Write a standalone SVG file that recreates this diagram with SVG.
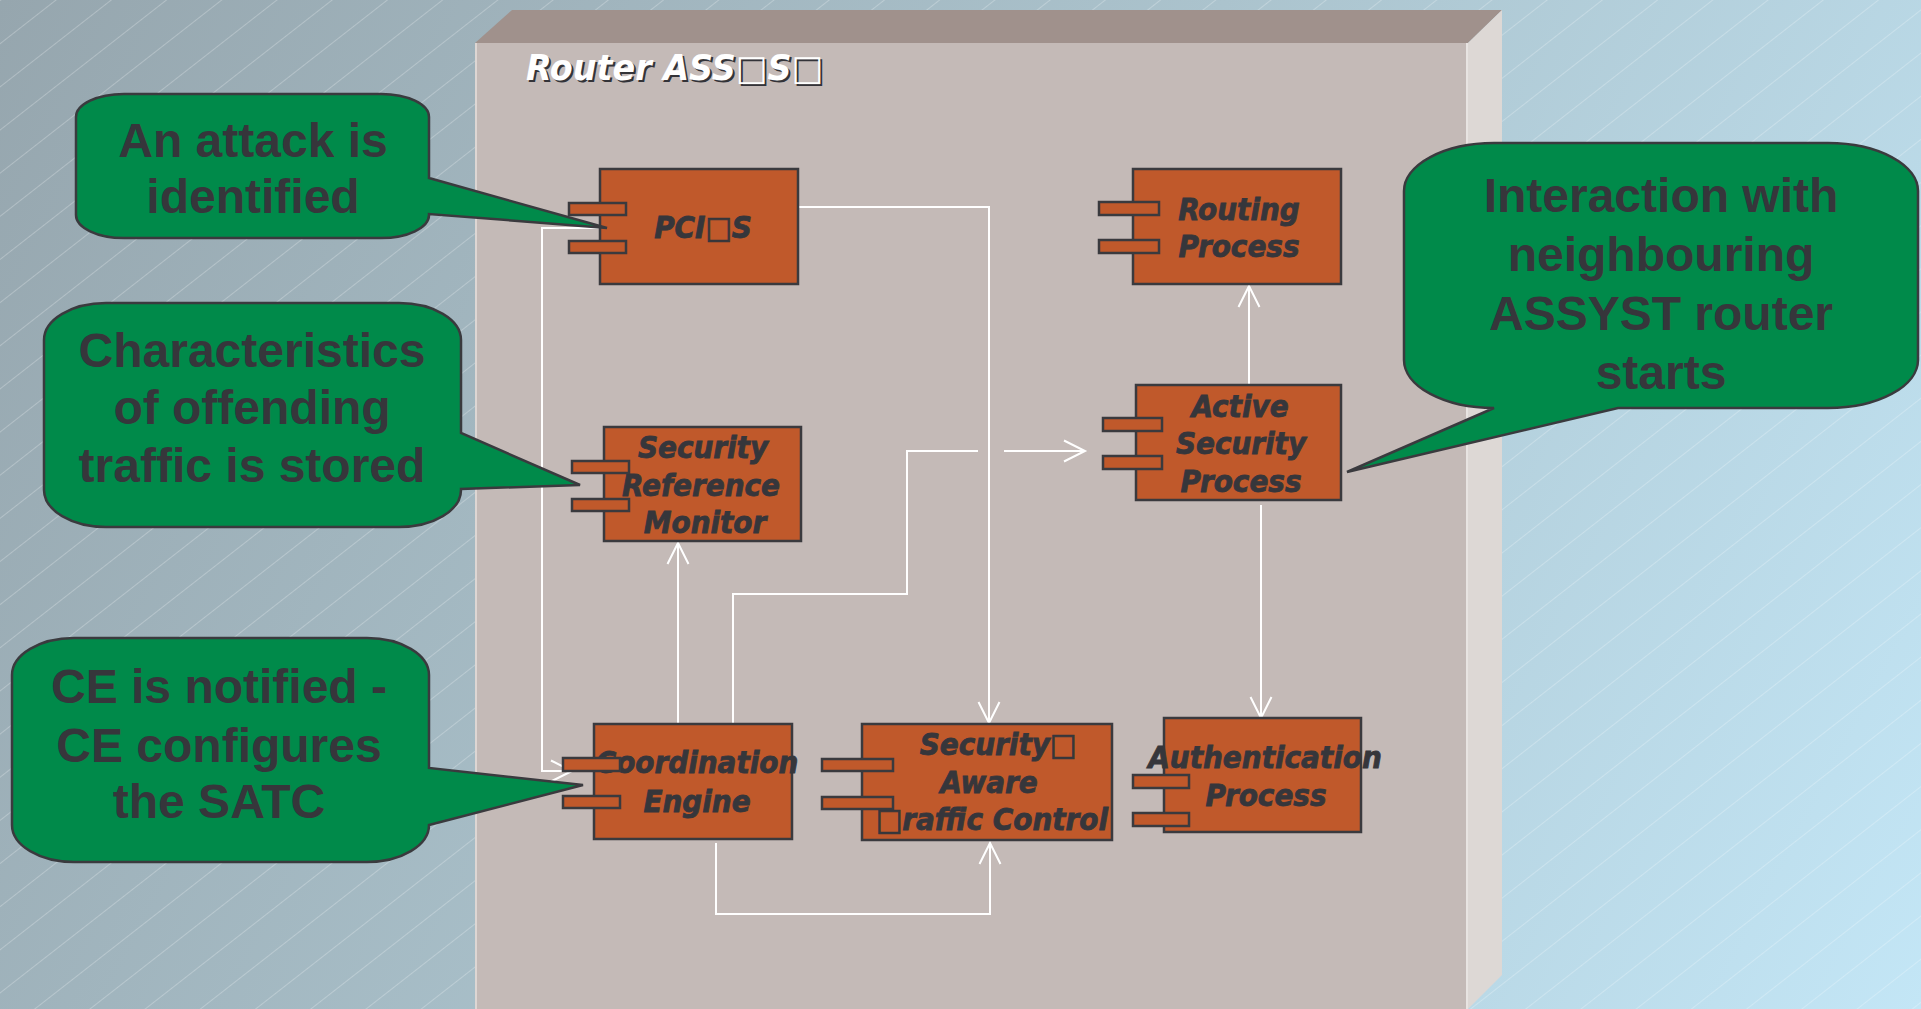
<svg xmlns="http://www.w3.org/2000/svg" width="1921" height="1009" viewBox="0 0 1921 1009">
<defs>
  <linearGradient id="bg" x1="0" y1="0" x2="1921" y2="1009" gradientUnits="userSpaceOnUse">
    <stop offset="0" stop-color="#96a6ae"/>
    <stop offset="0.5" stop-color="#abc3cd"/>
    <stop offset="1" stop-color="#c3e6f6"/>
  </linearGradient>
  <pattern id="hatch" width="34" height="34" patternUnits="userSpaceOnUse" patternTransform="rotate(-38)">
    <line x1="0" y1="0.5" x2="34" y2="0.5" stroke="#ffffff" stroke-opacity="0.25" stroke-width="1"/>
  </pattern>
  <marker id="arr" markerUnits="userSpaceOnUse" markerWidth="30" markerHeight="30" viewBox="-25 -15 30 30" refX="0" refY="0" orient="auto">
    <path d="M-21,-10.5 L0,0 L-21,10.5" fill="none" stroke="#ffffff" stroke-width="2"/>
  </marker>
</defs>
<style>
  .box { fill: #c0592b; stroke: #3a3a3e; stroke-width: 2.5; }
  .port { fill: #c0592b; stroke: #3a3a3e; stroke-width: 2.5; }
  .lbl { font-family: "DejaVu Sans Condensed", "DejaVu Sans", sans-serif; font-weight: bold; font-style: italic; font-size: 31px; fill: #36363b; stroke: #36363b; stroke-width: 0.8; text-anchor: middle; }
  .call { fill: #008a4a; stroke: #3a3a3e; stroke-width: 2.5; }
  .ctxt { font-family: "Liberation Sans", Arial, sans-serif; font-weight: bold; font-size: 48px; fill: #36363b; text-anchor: middle; }
  .conn { fill: none; stroke: #ffffff; stroke-width: 2; }
  .title { font-family: "DejaVu Sans Condensed", "DejaVu Sans", sans-serif; font-weight: bold; font-style: italic; font-size: 35px; }
</style>

<rect x="0" y="0" width="1921" height="1009" fill="url(#bg)"/>
<rect x="0" y="0" width="1921" height="1009" fill="url(#hatch)"/>

<g id="router">
  <polygon points="475,43 512,10 1502,10 1468,43" fill="#a0918c"/>
  <polygon points="1468,43 1502,10 1502,975 1468,1009" fill="#ddd8d5"/>
  <rect x="475" y="43" width="993" height="966" fill="#c4bab7"/>
  <line x1="476" y1="43" x2="476" y2="1009" stroke="#ddd6d3" stroke-width="2"/>
  <line x1="1467" y1="43" x2="1467" y2="1009" stroke="#e8e4e2" stroke-width="2"/>
  <text class="title" x="528" y="82" fill="#333338" textLength="297" lengthAdjust="spacingAndGlyphs">Router ASS□S□</text>
  <text class="title" x="526" y="80" fill="#ffffff" textLength="297" lengthAdjust="spacingAndGlyphs">Router ASS□S□</text>
</g>

<g id="connectors">
  <path class="conn" d="M798,207 H989 V723" marker-end="url(#arr)"/>
  <path class="conn" d="M600,228 H542 V771 H572" marker-end="url(#arr)"/>
  <path class="conn" d="M678,724 V543" marker-end="url(#arr)"/>
  <path class="conn" d="M733,723 V594 H907 V451 H978 M1004,451 H1085" marker-end="url(#arr)"/>
  <path class="conn" d="M1249,385 V286" marker-end="url(#arr)"/>
  <path class="conn" d="M1261,505 V718" marker-end="url(#arr)"/>
  <path class="conn" d="M716,843 V914 H990 V843" marker-end="url(#arr)"/>
</g>

<g id="pcis">
  <rect class="box" x="600" y="169" width="198" height="115"/>
  <text class="lbl" x="703" y="238">PCI□S</text>
  <rect class="port" x="569" y="203" width="57" height="12"/>
  <rect class="port" x="569" y="241" width="57" height="12"/>
</g>

<g id="srm">
  <rect class="box" x="604" y="427" width="197" height="114"/>
  <text class="lbl" x="703" y="458">Security</text>
  <text class="lbl" x="701" y="496">Reference</text>
  <text class="lbl" x="705" y="533">Monitor</text>
  <rect class="port" x="572" y="461" width="57" height="12"/>
  <rect class="port" x="572" y="499" width="57" height="12"/>
</g>

<g id="routing">
  <rect class="box" x="1133" y="169" width="208" height="115"/>
  <text class="lbl" x="1239" y="220">Routing</text>
  <text class="lbl" x="1239" y="257">Process</text>
  <rect class="port" x="1099" y="202" width="60" height="13"/>
  <rect class="port" x="1099" y="240" width="60" height="13"/>
</g>

<g id="asp">
  <rect class="box" x="1136" y="385" width="205" height="115"/>
  <text class="lbl" x="1240" y="417">Active</text>
  <text class="lbl" x="1241" y="454">Security</text>
  <text class="lbl" x="1241" y="492">Process</text>
  <rect class="port" x="1103" y="418" width="59" height="13"/>
  <rect class="port" x="1103" y="456" width="59" height="13"/>
</g>

<g id="coordination">
  <rect class="box" x="594" y="724" width="198" height="115"/>
  <text class="lbl" x="697" y="773">Coordination</text>
  <text class="lbl" x="697" y="812">Engine</text>
  <rect class="port" x="563" y="758" width="57" height="13"/>
  <rect class="port" x="563" y="796" width="57" height="12"/>
</g>

<g id="satc">
  <rect class="box" x="862" y="724" width="250" height="116"/>
  <rect class="port" x="822" y="759" width="71" height="12"/>
  <rect class="port" x="822" y="797" width="71" height="12"/>
  <text class="lbl" x="998" y="755">Security□</text>
  <text class="lbl" x="989" y="793">Aware</text>
  <text class="lbl" x="992" y="830">□raffic Control</text>
</g>

<g id="authentication">
  <rect class="box" x="1164" y="718" width="197" height="114"/>
  <text class="lbl" x="1265" y="768">Authentication</text>
  <text class="lbl" x="1266" y="806">Process</text>
  <rect class="port" x="1133" y="775" width="56" height="13"/>
  <rect class="port" x="1133" y="813" width="56" height="13"/>
</g>

<g id="callout-attack">
  <path class="call" d="M124,94 H381 A48,23 0 0 1 429,117 V178 L607,228 L429,214 V215 A48,23 0 0 1 381,238 H124 A48,23 0 0 1 76,215 V117 A48,23 0 0 1 124,94 Z"/>
  <text class="ctxt" x="253" y="157">An attack is</text>
  <text class="ctxt" x="253" y="213">identified</text>
</g>

<g id="callout-characteristics">
  <path class="call" d="M106,303 H399 A62,37 0 0 1 461,340 V433 L580,485 L461,489 V490 A62,37 0 0 1 399,527 H106 A62,37 0 0 1 44,490 V340 A62,37 0 0 1 106,303 Z"/>
  <text class="ctxt" x="252" y="367">Characteristics</text>
  <text class="ctxt" x="252" y="424">of offending</text>
  <text class="ctxt" x="252" y="482">traffic is stored</text>
</g>

<g id="callout-ce">
  <path class="call" d="M74,638 H367 A62,37 0 0 1 429,675 V768 L583,785 L429,825 A62,37 0 0 1 367,862 H74 A62,37 0 0 1 12,825 V675 A62,37 0 0 1 74,638 Z"/>
  <text class="ctxt" x="219" y="703">CE is notified -</text>
  <text class="ctxt" x="219" y="762">CE configures</text>
  <text class="ctxt" x="219" y="818">the SATC</text>
</g>

<g id="callout-interaction">
  <path class="call" d="M1494,143 H1828 A90,48 0 0 1 1918,191 V360 A90,48 0 0 1 1828,408 H1618 L1347,472 L1494,408 A90,48 0 0 1 1404,360 V191 A90,48 0 0 1 1494,143 Z"/>
  <text class="ctxt" x="1661" y="212">Interaction with</text>
  <text class="ctxt" x="1661" y="271">neighbouring</text>
  <text class="ctxt" x="1661" y="330">ASSYST router</text>
  <text class="ctxt" x="1661" y="389">starts</text>
</g>
</svg>
